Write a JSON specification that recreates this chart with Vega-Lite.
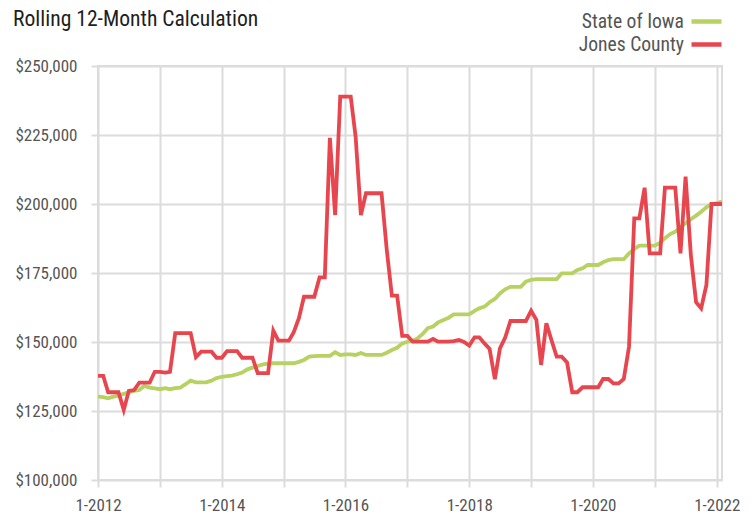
{
  "$schema": "https://vega.github.io/schema/vega-lite/v6.json",
  "autosize": {"type": "none"},
  "width": 624,
  "height": 414,
  "padding": {"left": 98, "top": 66, "right": 31, "bottom": 35},
  "background": "white",
  "title": {"text": "Rolling 12-Month Calculation", "anchor": "start", "frame": "group", "dx": -85, "offset": 0, "dy": 22, "font": "Roboto Condensed", "fontSize": 21.6, "fontWeight": "normal", "color": "#1e1e1e"},
  "config": {
    "view": {"stroke": "#dcdcdc", "strokeWidth": 2},
    "axis": {"labelFont": "Roboto Condensed", "labelFontSize": 17, "labelColor": "#555555", "gridColor": "#dcdcdc", "gridWidth": 2, "tickColor": "#dcdcdc", "tickWidth": 2, "tickSize": 7, "domain": false, "title": null}
  },
  "data": {"values": [
    {"d":"2012-01-01","State of Iowa":130200,"Jones County":137700},
    {"d":"2012-02-01","State of Iowa":130000,"Jones County":137700},
    {"d":"2012-03-01","State of Iowa":129600,"Jones County":131800},
    {"d":"2012-04-01","State of Iowa":130200,"Jones County":131800},
    {"d":"2012-05-01","State of Iowa":130600,"Jones County":131800},
    {"d":"2012-06-01","State of Iowa":131200,"Jones County":125400},
    {"d":"2012-07-01","State of Iowa":131800,"Jones County":132300},
    {"d":"2012-08-01","State of Iowa":132300,"Jones County":132600},
    {"d":"2012-09-01","State of Iowa":132600,"Jones County":135300},
    {"d":"2012-10-01","State of Iowa":134100,"Jones County":135300},
    {"d":"2012-11-01","State of Iowa":133500,"Jones County":135300},
    {"d":"2012-12-01","State of Iowa":133200,"Jones County":139200},
    {"d":"2013-01-01","State of Iowa":132900,"Jones County":139200},
    {"d":"2013-02-01","State of Iowa":133300,"Jones County":138900},
    {"d":"2013-03-01","State of Iowa":132900,"Jones County":139200},
    {"d":"2013-04-01","State of Iowa":133300,"Jones County":153200},
    {"d":"2013-05-01","State of Iowa":133500,"Jones County":153200},
    {"d":"2013-06-01","State of Iowa":134700,"Jones County":153200},
    {"d":"2013-07-01","State of Iowa":136000,"Jones County":153200},
    {"d":"2013-08-01","State of Iowa":135400,"Jones County":144500},
    {"d":"2013-09-01","State of Iowa":135400,"Jones County":146500},
    {"d":"2013-10-01","State of Iowa":135400,"Jones County":146500},
    {"d":"2013-11-01","State of Iowa":136000,"Jones County":146500},
    {"d":"2013-12-01","State of Iowa":136900,"Jones County":144300},
    {"d":"2014-01-01","State of Iowa":137400,"Jones County":144300},
    {"d":"2014-02-01","State of Iowa":137600,"Jones County":146700},
    {"d":"2014-03-01","State of Iowa":137800,"Jones County":146700},
    {"d":"2014-04-01","State of Iowa":138300,"Jones County":146700},
    {"d":"2014-05-01","State of Iowa":138900,"Jones County":144300},
    {"d":"2014-06-01","State of Iowa":140100,"Jones County":144300},
    {"d":"2014-07-01","State of Iowa":140700,"Jones County":144300},
    {"d":"2014-08-01","State of Iowa":141300,"Jones County":138700},
    {"d":"2014-09-01","State of Iowa":141900,"Jones County":138700},
    {"d":"2014-10-01","State of Iowa":142200,"Jones County":138700},
    {"d":"2014-11-01","State of Iowa":142300,"Jones County":154100},
    {"d":"2014-12-01","State of Iowa":142300,"Jones County":150500},
    {"d":"2015-01-01","State of Iowa":142300,"Jones County":150500},
    {"d":"2015-02-01","State of Iowa":142300,"Jones County":150500},
    {"d":"2015-03-01","State of Iowa":142300,"Jones County":153500},
    {"d":"2015-04-01","State of Iowa":142800,"Jones County":158600},
    {"d":"2015-05-01","State of Iowa":143500,"Jones County":166400},
    {"d":"2015-06-01","State of Iowa":144700,"Jones County":166400},
    {"d":"2015-07-01","State of Iowa":144900,"Jones County":166400},
    {"d":"2015-08-01","State of Iowa":145000,"Jones County":173400},
    {"d":"2015-09-01","State of Iowa":145000,"Jones County":173400},
    {"d":"2015-10-01","State of Iowa":145000,"Jones County":224000},
    {"d":"2015-11-01","State of Iowa":146300,"Jones County":196000},
    {"d":"2015-12-01","State of Iowa":145300,"Jones County":238900},
    {"d":"2016-01-01","State of Iowa":145500,"Jones County":238900},
    {"d":"2016-02-01","State of Iowa":145500,"Jones County":238900},
    {"d":"2016-03-01","State of Iowa":145300,"Jones County":224400},
    {"d":"2016-04-01","State of Iowa":146000,"Jones County":196000},
    {"d":"2016-05-01","State of Iowa":145300,"Jones County":203900},
    {"d":"2016-06-01","State of Iowa":145300,"Jones County":203900},
    {"d":"2016-07-01","State of Iowa":145300,"Jones County":203900},
    {"d":"2016-08-01","State of Iowa":145300,"Jones County":203900},
    {"d":"2016-09-01","State of Iowa":146100,"Jones County":183300},
    {"d":"2016-10-01","State of Iowa":147100,"Jones County":166800},
    {"d":"2016-11-01","State of Iowa":147900,"Jones County":166800},
    {"d":"2016-12-01","State of Iowa":149500,"Jones County":152200},
    {"d":"2017-01-01","State of Iowa":150100,"Jones County":152200},
    {"d":"2017-02-01","State of Iowa":150500,"Jones County":150100},
    {"d":"2017-03-01","State of Iowa":151300,"Jones County":150100},
    {"d":"2017-04-01","State of Iowa":152900,"Jones County":150100},
    {"d":"2017-05-01","State of Iowa":155000,"Jones County":150100},
    {"d":"2017-06-01","State of Iowa":155600,"Jones County":151100},
    {"d":"2017-07-01","State of Iowa":157100,"Jones County":150100},
    {"d":"2017-08-01","State of Iowa":158000,"Jones County":150100},
    {"d":"2017-09-01","State of Iowa":158800,"Jones County":150100},
    {"d":"2017-10-01","State of Iowa":160000,"Jones County":150300},
    {"d":"2017-11-01","State of Iowa":160000,"Jones County":150700},
    {"d":"2017-12-01","State of Iowa":160000,"Jones County":150000},
    {"d":"2018-01-01","State of Iowa":160000,"Jones County":148700},
    {"d":"2018-02-01","State of Iowa":161300,"Jones County":151700},
    {"d":"2018-03-01","State of Iowa":162200,"Jones County":151700},
    {"d":"2018-04-01","State of Iowa":162800,"Jones County":149500},
    {"d":"2018-05-01","State of Iowa":164400,"Jones County":147500},
    {"d":"2018-06-01","State of Iowa":165600,"Jones County":136500},
    {"d":"2018-07-01","State of Iowa":167600,"Jones County":147700},
    {"d":"2018-08-01","State of Iowa":169100,"Jones County":151600},
    {"d":"2018-09-01","State of Iowa":170000,"Jones County":157600},
    {"d":"2018-10-01","State of Iowa":170000,"Jones County":157600},
    {"d":"2018-11-01","State of Iowa":170000,"Jones County":157600},
    {"d":"2018-12-01","State of Iowa":171900,"Jones County":157600},
    {"d":"2019-01-01","State of Iowa":172500,"Jones County":161300},
    {"d":"2019-02-01","State of Iowa":172800,"Jones County":158000},
    {"d":"2019-03-01","State of Iowa":172800,"Jones County":141700},
    {"d":"2019-04-01","State of Iowa":172800,"Jones County":156800},
    {"d":"2019-05-01","State of Iowa":172800,"Jones County":150700},
    {"d":"2019-06-01","State of Iowa":172800,"Jones County":144700},
    {"d":"2019-07-01","State of Iowa":174900,"Jones County":144700},
    {"d":"2019-08-01","State of Iowa":174900,"Jones County":142600},
    {"d":"2019-09-01","State of Iowa":174900,"Jones County":131800},
    {"d":"2019-10-01","State of Iowa":176100,"Jones County":131800},
    {"d":"2019-11-01","State of Iowa":176700,"Jones County":133600},
    {"d":"2019-12-01","State of Iowa":177900,"Jones County":133600},
    {"d":"2020-01-01","State of Iowa":177900,"Jones County":133600},
    {"d":"2020-02-01","State of Iowa":177900,"Jones County":133600},
    {"d":"2020-03-01","State of Iowa":178900,"Jones County":136600},
    {"d":"2020-04-01","State of Iowa":179700,"Jones County":136600},
    {"d":"2020-05-01","State of Iowa":180000,"Jones County":135000},
    {"d":"2020-06-01","State of Iowa":180000,"Jones County":135000},
    {"d":"2020-07-01","State of Iowa":180000,"Jones County":136600},
    {"d":"2020-08-01","State of Iowa":182100,"Jones County":148300},
    {"d":"2020-09-01","State of Iowa":183700,"Jones County":194800},
    {"d":"2020-10-01","State of Iowa":184900,"Jones County":194800},
    {"d":"2020-11-01","State of Iowa":184900,"Jones County":205900},
    {"d":"2020-12-01","State of Iowa":184900,"Jones County":182100},
    {"d":"2021-01-01","State of Iowa":184900,"Jones County":182100},
    {"d":"2021-02-01","State of Iowa":186000,"Jones County":182100},
    {"d":"2021-03-01","State of Iowa":187600,"Jones County":205900},
    {"d":"2021-04-01","State of Iowa":189100,"Jones County":205900},
    {"d":"2021-05-01","State of Iowa":190000,"Jones County":205900},
    {"d":"2021-06-01","State of Iowa":191600,"Jones County":182100},
    {"d":"2021-07-01","State of Iowa":193000,"Jones County":209900},
    {"d":"2021-08-01","State of Iowa":194500,"Jones County":181500},
    {"d":"2021-09-01","State of Iowa":195800,"Jones County":164400},
    {"d":"2021-10-01","State of Iowa":197200,"Jones County":162200},
    {"d":"2021-11-01","State of Iowa":198800,"Jones County":170700},
    {"d":"2021-12-01","State of Iowa":200000,"Jones County":200000},
    {"d":"2022-01-01","State of Iowa":200300,"Jones County":200000},
    {"d":"2022-02-01","State of Iowa":200900,"Jones County":200000}
  ]},
  "transform": [{"fold": ["State of Iowa", "Jones County"], "as": ["series", "value"]}],
  "mark": {"type": "line", "strokeWidth": 3.8, "strokeJoin": "miter", "strokeCap": "butt", "clip": true},
  "encoding": {
    "x": {"field": "d", "type": "temporal",
      "scale": {"type": "utc", "domain": [{"year": 2012, "month": 1, "date": 1, "utc": true}, {"year": 2022, "month": 2, "date": 1, "utc": true}]},
      "axis": {
        "values": [
          {"year": 2012, "month": 1, "date": 1, "utc": true}, {"year": 2013, "month": 1, "date": 1, "utc": true},
          {"year": 2014, "month": 1, "date": 1, "utc": true}, {"year": 2015, "month": 1, "date": 1, "utc": true},
          {"year": 2016, "month": 1, "date": 1, "utc": true}, {"year": 2017, "month": 1, "date": 1, "utc": true},
          {"year": 2018, "month": 1, "date": 1, "utc": true}, {"year": 2019, "month": 1, "date": 1, "utc": true},
          {"year": 2020, "month": 1, "date": 1, "utc": true}, {"year": 2021, "month": 1, "date": 1, "utc": true},
          {"year": 2022, "month": 1, "date": 1, "utc": true}
        ],
        "labelExpr": "utcyear(datum.value) % 2 == 0 ? utcFormat(datum.value, '%-m-%Y') : ''",
        "labelPadding": 10.5, "labelFlush": false, "labelOverlap": false
      }
    },
    "y": {"field": "value", "type": "quantitative",
      "scale": {"domain": [100000, 250000], "nice": false, "zero": false},
      "axis": {"values": [100000, 125000, 150000, 175000, 200000, 225000, 250000], "format": "$,.0f", "labelPadding": 14}
    },
    "color": {"field": "series", "type": "nominal",
      "scale": {"domain": ["State of Iowa", "Jones County"], "range": ["#b7d163", "#e8464f"]},
      "legend": {"orient": "none", "legendX": 596, "legendY": -57, "title": null, "padding": 0,
        "symbolType": "M-1.5,0H1.5", "symbolSize": 400, "symbolStrokeWidth": 4.5, "symbolFillColor": "transparent",
        "labelAlign": "right", "labelOffset": -35, "labelFont": "Roboto Condensed", "labelFontSize": 19.6, "labelColor": "#555555",
        "rowPadding": -2, "labelLimit": 300}
    }
  }
}
